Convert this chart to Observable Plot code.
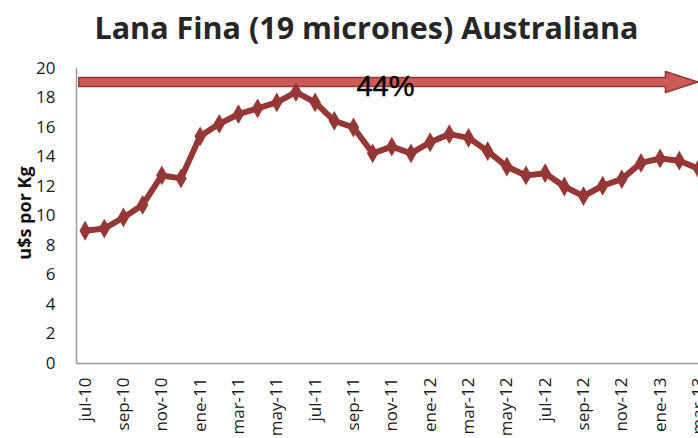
<!DOCTYPE html>
<html><head><meta charset="utf-8">
<script src="https://cdn.jsdelivr.net/npm/d3@7"></script>
<script src="https://cdn.jsdelivr.net/npm/@observablehq/plot@0.6"></script>
<style>
body{margin:0;width:698px;height:438px;overflow:hidden;background:#fff;}
#title{height:52px;line-height:54px;text-align:center;font-family:"Open Sans",sans-serif;font-weight:700;font-size:30.5px;color:#262626;padding-left:35px;white-space:nowrap;}
</style></head><body>
<div id="title">Lana Fina (19 micrones) Australiana</div>
<div id="chart"></div>
<script>
const months = ["jul-10","ago-10","sep-10","oct-10","nov-10","dic-10",
  "ene-11","feb-11","mar-11","abr-11","may-11","jun-11","jul-11","ago-11","sep-11","oct-11","nov-11","dic-11",
  "ene-12","feb-12","mar-12","abr-12","may-12","jun-12","jul-12","ago-12","sep-12","oct-12","nov-12","dic-12",
  "ene-13","feb-13","mar-13"];
const prices = [9.0, 9.15, 9.9, 10.75, 12.75, 12.55,
  15.4, 16.25, 16.9, 17.3, 17.7, 18.4, 17.7, 16.45, 16.0, 14.25, 14.7, 14.25,
  15.0, 15.55, 15.3, 14.4, 13.35, 12.75, 12.9, 12.0, 11.35, 12.05, 12.5, 13.6,
  13.9, 13.75, 13.2];
const tickLabels = ["jul-10","sep-10","nov-10","ene-11","mar-11","may-11","jul-11","sep-11","nov-11",
  "ene-12","mar-12","may-12","jul-12","sep-12","nov-12","ene-13","mar-13"];
const yTicks = [0,2,4,6,8,10,12,14,16,18,20];
const yLabel = "u$s por Kg";
const arrowValue = 19.05;
const arrowStart = -0.3;
const arrowHeadBase = 30.3;
const arrowEnd = 32;
const arrowLabel = "44%";
const arrowLabelX = 15.67;
const arrowLabelY = 18.75;

const data = prices.map((v, i) => ({i, month: months[i], v}));
const tickIdx = tickLabels.map(t => months.indexOf(t));

const font = "'Open Sans', sans-serif";
const arrowMark = (index, scales) => {
  const x = scales.x, y = scales.y;
  const yc = y(arrowValue), x0 = x(arrowStart), x1 = x(arrowHeadBase), xt = x(arrowEnd);
  const g = d3.create("svg:g");
  g.append("path")
    .attr("d", `M${x0},${yc-4.5}H${x1}V${yc-10.5}L${xt},${yc}L${x1},${yc+10.5}V${yc+4.5}H${x0}Z`)
    .attr("fill", "#cc5a55").attr("stroke", "#8f3835").attr("stroke-width", 1.5)
    .attr("stroke-linejoin", "round");
  return g.node();
};

const chart = Plot.plot({
  width: 698, height: 386,
  marginLeft: 76, marginRight: 0, marginTop: 16, marginBottom: 75,
  style: {fontFamily: font, background: "#fff", color: "#1a1a1a"},
  x: {type: "linear", domain: [-0.45, 32]},
  y: {domain: [0, 20]},
  marks: [
    Plot.axisY({ticks: yTicks, tickSize: 0, tickPadding: 21, fontSize: 17, label: null}),
    Plot.axisX({ticks: tickIdx, tickFormat: i => months[i], tickRotate: -90, tickSize: 0, tickPadding: 14, fontSize: 17, label: null}),
    Plot.ruleX([-0.45], {y1: 0, y2: 20, stroke: "#9a9a9a", strokeWidth: 1.5}),
    Plot.ruleY([0], {stroke: "#9a9a9a", strokeWidth: 1.5}),
    Plot.text([yLabel], {frameAnchor: "left", textAnchor: "middle", dx: -51, dy: -3, rotate: -90, fontSize: 18, fontWeight: "bold", fill: "#111"}),
    arrowMark,
    Plot.text([arrowLabel], {x: () => arrowLabelX, y: () => arrowLabelY, fontSize: 29, fontFamily: "'Liberation Sans', Arial, sans-serif", fill: "#000", stroke: "#000", strokeWidth: 0.4}),
    Plot.line(data, {x: "i", y: "v", stroke: "#953735", strokeWidth: 6, strokeLinejoin: "round"}),
    Plot.dot(data, {x: "i", y: "v", symbol: "diamond", r: 6, fill: "#953735"})
  ]
});
document.getElementById("chart").append(chart);
</script>
</body></html>
